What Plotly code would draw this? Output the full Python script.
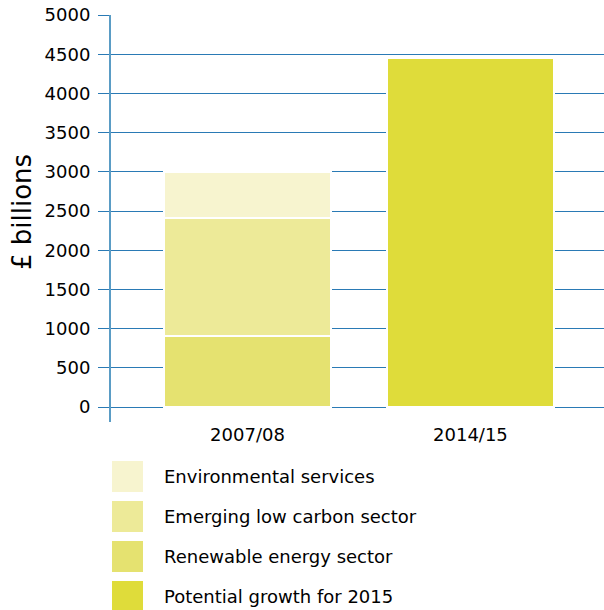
import plotly.graph_objects as go

categories = ["2007/08", "2014/15"]
renewable = [910, None]
emerging = [1500, None]
environmental = [590, None]
potential = [None, 4450]

y_ticks = [0, 500, 1000, 1500, 2000, 2500, 3000, 3500, 4000, 4500, 5000]

legend_names = ["Environmental services", "Emerging low carbon sector",
                "Renewable energy sector", "Potential growth for 2015"]
colors = {
    "Renewable energy sector": "#E5E270",
    "Emerging low carbon sector": "#EDEA98",
    "Environmental services": "#F7F4CF",
    "Potential growth for 2015": "#DFDC3A",
}

W, H = 604, 610
ML, MR, MT, MB = 111, 0, 15, 188
font = "DejaVu Sans, sans-serif"

fig = go.Figure()
for name, vals in [("Renewable energy sector", renewable),
                   ("Emerging low carbon sector", emerging),
                   ("Environmental services", environmental),
                   ("Potential growth for 2015", potential)]:
    fig.add_trace(go.Bar(
        x=categories, y=vals, name=name, width=0.75,
        marker=dict(color=colors[name], line=dict(color="white", width=2)),
        showlegend=False,
    ))

fig.update_layout(
    width=W, height=H,
    margin=dict(l=ML, r=MR, t=MT, b=MB, autoexpand=False),
    barmode="stack",
    plot_bgcolor="white", paper_bgcolor="white",
    font=dict(family=font, size=18, color="black"),
    xaxis=dict(range=[-0.612, 1.599], showgrid=False, showline=False,
               zeroline=False, ticks="", tickfont=dict(size=18)),
    yaxis=dict(range=[-190, 5000], tickvals=y_ticks, showgrid=True,
               gridcolor="#2a7ab5", gridwidth=1.4, zeroline=False,
               showline=True, linecolor="#5a9cc5", linewidth=2,
               ticks="outside", ticklen=11, tickcolor="#2a7ab5", tickwidth=1.4,
               tickfont=dict(size=18), ticklabelstandoff=4),
)

pw = W - ML - MR
ph = H - MT - MB

def px_x(x):
    return (x - ML) / pw

def px_y(y):
    return (H - MB - y) / ph

fig.add_annotation(text="£ billions", textangle=-90, x=px_x(22), y=px_y(212),
                   xref="paper", yref="paper", showarrow=False,
                   font=dict(size=26, family=font), xanchor="center", yanchor="middle")

for i, name in enumerate(legend_names):
    top = 461 + 40 * i
    fig.add_shape(type="rect", xref="paper", yref="paper",
                  x0=px_x(112), x1=px_x(143), y0=px_y(top), y1=px_y(top + 31),
                  fillcolor=colors[name], line=dict(width=0), layer="above")
    fig.add_annotation(text=name, x=px_x(162), y=px_y(top + 15.5),
                       xref="paper", yref="paper", showarrow=False,
                       xanchor="left", yanchor="middle",
                       font=dict(size=18, family=font))

fig.write_html("out.html")
